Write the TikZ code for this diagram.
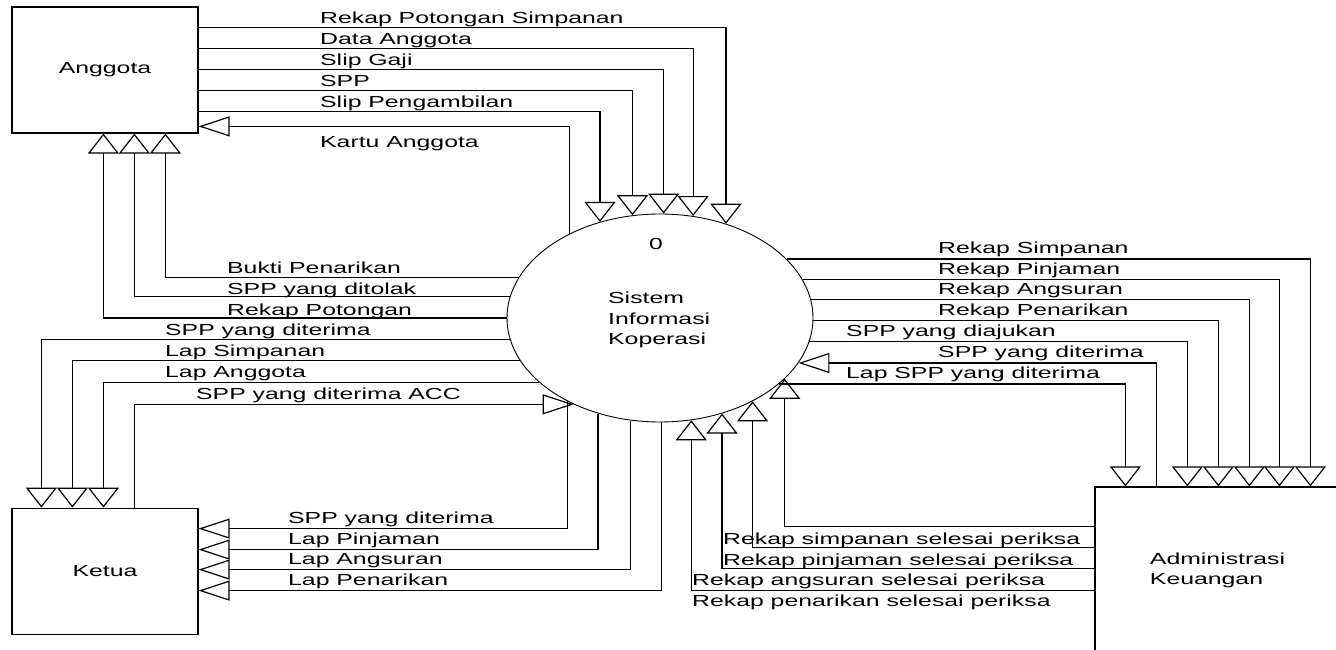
\documentclass[tikz,border=0pt]{standalone}
\usepackage{fontspec}
\setmainfont{Liberation Sans}[FakeStretch=1.55]
\usetikzlibrary{arrows.meta,positioning,shapes}
\tikzstyle{entity} = [rectangle, draw, line width=1.2pt,
    minimum width=186pt, minimum height=126pt, inner sep=0pt]
\tikzstyle{process} = [ellipse, draw, line width=0.9pt,
    minimum width=306pt, minimum height=208pt, inner sep=0pt]
\tikzstyle{flowtext} = [inner sep=0pt, anchor=base west]
\tikzstyle{line} = [draw, line width=1.2pt]
\tikzstyle{hline} = [line, -{Triangle[open, length=31pt, width=20pt]}]
\tikzstyle{vline} = [line, -{Triangle[open, length=20pt, width=31pt]}]

\begin{document}
\begin{tikzpicture}[x=1pt, y=-1pt, font=\fontsize{16}{20}\selectfont]
      \path [use as bounding box, fill=white] (0,0) rectangle (1336,650);
      \clip (0,0) rectangle (1336,650);
      \node [entity] (anggota) at (105,70) {Anggota};
      \node [entity, below=374pt of anggota] (ketua) {Ketua};
      \node [entity, minimum width=245pt, minimum height=166pt, align=left] (admin) at (1217.5,570) {Administrasi\\Keuangan};
      \node [process] (sik) at (660,318) {};
      \node [inner sep=0pt] (siknum) at (656,244) {0};
      \node [align=left, inner sep=0pt, anchor=north west, font=\fontsize{16}{20.5}\selectfont] (sikname) at (608,292) {Sistem\\Informasi\\Koperasi};
      % Flow labels
      \node [flowtext] (rps) at (320,23.5) {Rekap Potongan Simpanan};
      \node [flowtext] (dang) at (320,44.5) {Data Anggota};
      \node [flowtext] (sgaji) at (320,65.5) {Slip Gaji};
      \node [flowtext] (spp) at (320,86.5) {SPP};
      \node [flowtext] (samb) at (320,107.5) {Slip Pengambilan};
      \node [flowtext] (kartu) at (320,148) {Kartu Anggota};
      \node [flowtext] (bukti) at (227,273.5) {Bukti Penarikan};
      \node [flowtext] (tolak) at (227,294.5) {SPP yang ditolak};
      \node [flowtext] (rpot) at (227,315.5) {Rekap Potongan};
      \node [flowtext] (terima1) at (165,335.5) {SPP yang diterima};
      \node [flowtext] (lsimp) at (165,356.5) {Lap Simpanan};
      \node [flowtext] (lang) at (165,377.5) {Lap Anggota};
      \node [flowtext] (acc) at (196,399.5) {SPP yang diterima ACC};
      \node [flowtext] (terima2) at (288,523.5) {SPP yang diterima};
      \node [flowtext] (lpinj) at (288,544.5) {Lap Pinjaman};
      \node [flowtext] (langs) at (288,564.5) {Lap Angsuran};
      \node [flowtext] (lpen) at (288,585.5) {Lap Penarikan};
      \node [flowtext] (rsimp) at (938,253.5) {Rekap Simpanan};
      \node [flowtext] (rpinj) at (938,274.5) {Rekap Pinjaman};
      \node [flowtext] (rangs) at (938,294.5) {Rekap Angsuran};
      \node [flowtext] (rpen) at (938,315.5) {Rekap Penarikan};
      \node [flowtext] (ajukan) at (846,336.5) {SPP yang diajukan};
      \node [flowtext] (terima3) at (938,357.5) {SPP yang diterima};
      \node [flowtext] (lspp) at (846,378.5) {Lap SPP yang diterima};
      \node [flowtext] (rsimpok) at (723,544) {Rekap simpanan selesai periksa};
      \node [flowtext] (rpinjok) at (723,565) {Rekap pinjaman selesai periksa};
      \node [flowtext] (rangsok) at (692,585) {Rekap angsuran selesai periksa};
      \node [flowtext] (rpenok) at (692,606) {Rekap penarikan selesai periksa};
      % Draw edges
      \path [vline] ([yshift=-21pt]anggota.north east) -| (sik.55.9);
      \path [vline] ([yshift=-42pt]anggota.north east) -| (sik.72);
      \path [vline] ([yshift=-63pt]anggota.north east) -| (sik.88.9);
      \path [vline] ([yshift=-84pt]anggota.north east) -| (sik.105.3);
      \path [vline] ([yshift=-105pt]anggota.north east) -| (sik.122.1);
      \path [hline] (sik.137.4) |- ([yshift=-120pt]anggota.north east);
      \path [vline] (sik.164.2) -| ([xshift=154pt]anggota.south west);
      \path [vline] (sik.172.8) -| ([xshift=123pt]anggota.south west);
      \path [vline] (sik.180.7) -| ([xshift=92pt]anggota.south west);
      \path [vline] (sik.188.4) -| ([xshift=30pt]ketua.north west);
      \path [vline] (sik.197.2) -| ([xshift=61pt]ketua.north west);
      \path [vline] (sik.208) -| ([xshift=92pt]ketua.north west);
      \path [hline] ([xshift=123pt]ketua.north west) |- (sik.225);
      \path [hline] (sik.222.6) |- ([yshift=-21pt]ketua.north east);
      \path [hline] (sik.237.9) |- ([yshift=-42pt]ketua.north east);
      \path [hline] (sik.254.1) |- ([yshift=-62pt]ketua.north east);
      \path [hline] (sik.271.1) |- ([yshift=-83pt]ketua.north east);
      \path [vline] (sik.25.6) -| ([xshift=216pt]admin.north west);
      \path [vline] (sik.15.4) -| ([xshift=185pt]admin.north west);
      \path [vline] (sik.7.2) -| ([xshift=155pt]admin.north west);
      \path [vline] (sik.359.3) -| ([xshift=124pt]admin.north west);
      \path [vline] (sik.351.2) -| ([xshift=93pt]admin.north west);
      \path [hline] ([xshift=62pt]admin.north west) |- (sik.342.4);
      \path [vline] (sik.331.4) -| ([xshift=31pt]admin.north west);
      \path [vline] ([yshift=-40pt]admin.north west) -| (sik.334.9);
      \path [vline] ([yshift=-61pt]admin.north west) -| (sik.318.9);
      \path [vline] ([yshift=-82pt]admin.north west) -| (sik.303.6);
      \path [vline] ([yshift=-104pt]admin.north west) -| (sik.287.5);
\end{tikzpicture}
\end{document}
